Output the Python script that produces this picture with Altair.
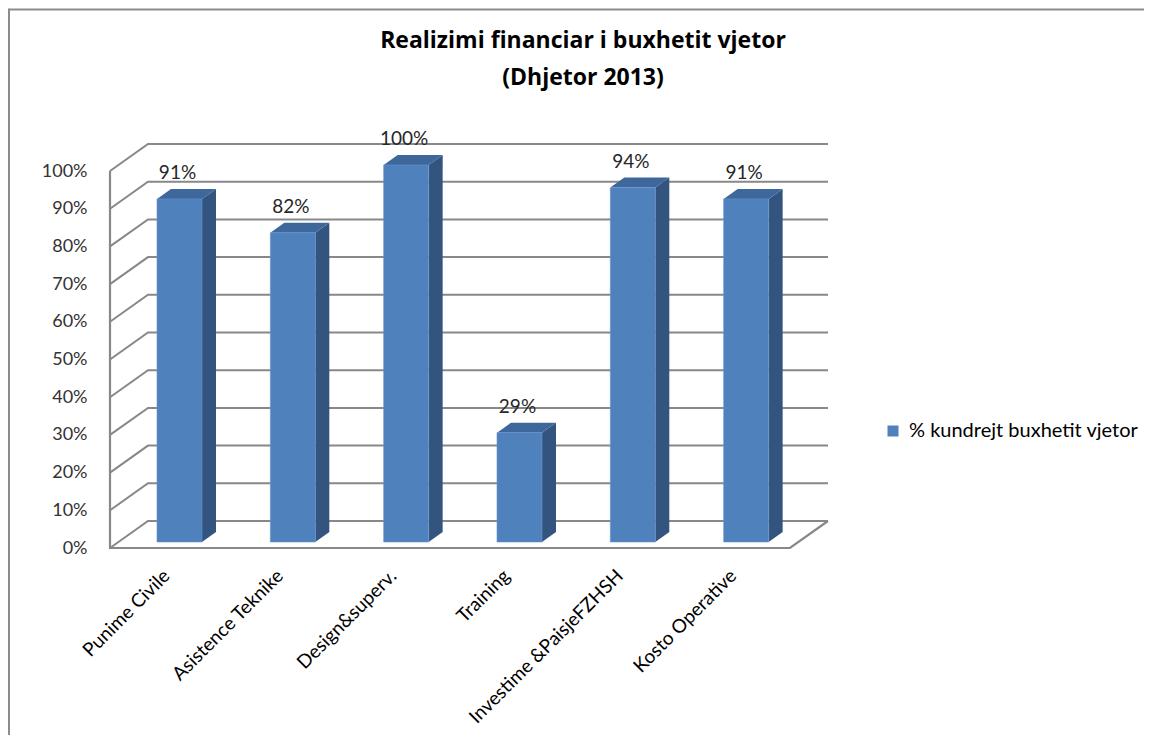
import altair as alt
import pandas as pd

# ---------------- data ----------------
categories = ["Punime Civile", "Asistence Teknike", "Design&superv.", "Training",
              "Investime &PaisjeFZHSH", "Kosto Operative"]
values = [0.91, 0.82, 1.00, 0.29, 0.94, 0.91]
grid_values = [0.0, 0.1, 0.2, 0.3, 0.4, 0.5, 0.6, 0.7, 0.8, 0.9, 1.0]
series_name = "% kundrejt buxhetit vjetor"
title_lines = ["Realizimi financiar i buxhetit  vjetor", "(Dhjetor 2013)"]

# ---------------- layout (pixels) ----------------
W, H = 718, 404
PITCH = 113.33     # px per category on the front edge
PER100 = 377.0     # px per 100% on the front edge


def ux(px):
    return px / PITCH


def uy(px):
    return px / PER100


N = len(categories)
XMAX = W / PITCH
YMAX = H / PER100
DEPTH_X, DEPTH_Y = ux(38), uy(27)
BAR_LEFT, BAR_W = ux(47), ux(45)
BAR_BASE = uy(6)
SIDE_X, SIDE_Y = ux(14), uy(10)

FRONT = "#4F81BD"
TOP = "#3E679B"
SIDE = "#33547F"
GRID = "#888888"
FONT = "Lato"

xs = alt.Scale(domain=[0, XMAX], nice=False, zero=False)
ys = alt.Scale(domain=[0, YMAX], nice=False, zero=False)

# ---------------- derived tables ----------------
front_rows, side_rows, top_rows, lab_rows, cat_rows = [], [], [], [], []
for i, (c, v) in enumerate(zip(categories, values)):
    x1 = i + BAR_LEFT
    x2 = x1 + BAR_W
    t = BAR_BASE + v
    front_rows.append(dict(cat=c, x1=x1, x2=x2, y1=BAR_BASE, y2=t, series=series_name))
    side_rows += [dict(cat=c, x=x2, lo=BAR_BASE, hi=t),
                  dict(cat=c, x=x2 + SIDE_X, lo=BAR_BASE + SIDE_Y, hi=t + SIDE_Y)]
    top_rows += [dict(cat=c, x=x1, lo=t, hi=t),
                 dict(cat=c, x=x1 + SIDE_X, lo=t, hi=t + SIDE_Y),
                 dict(cat=c, x=x2, lo=t, hi=t + SIDE_Y),
                 dict(cat=c, x=x2 + SIDE_X, lo=t + SIDE_Y, hi=t + SIDE_Y)]
    lab_rows.append(dict(x=x1 + BAR_W / 2 - ux(2), y=t, txt=f"{round(v * 100)}%"))
    cat_rows.append(dict(x=i + 0.5, y=0.0, txt=c))

grid_rows = []
for g in grid_values:
    grid_rows += [dict(g=g, x=0.0, y=g, o=0),
                  dict(g=g, x=DEPTH_X, y=g + DEPTH_Y, o=1),
                  dict(g=g, x=XMAX, y=g + DEPTH_Y, o=2)]

edge_rows = [dict(x=0.0, y=1.0, o=0), dict(x=0.0, y=0.0, o=1),
             dict(x=float(N), y=0.0, o=2), dict(x=N + DEPTH_X, y=DEPTH_Y, o=3)]

front_df = pd.DataFrame(front_rows)
side_df = pd.DataFrame(side_rows)
top_df = pd.DataFrame(top_rows)
lab_df = pd.DataFrame(lab_rows)
cat_df = pd.DataFrame(cat_rows)
grid_df = pd.DataFrame(grid_rows)
edge_df = pd.DataFrame(edge_rows)
one = pd.DataFrame({"a": [0]})

# ---------------- layers ----------------
frame_top = alt.Chart(one).mark_rule(color="#8c8c8c", strokeWidth=2).encode(
    x=alt.value(-101), x2=alt.value(W + 316), y=alt.value(-134.5))
frame_left = alt.Chart(one).mark_rule(color="#8c8c8c", strokeWidth=2).encode(
    x=alt.value(-101), y=alt.value(-135.5), y2=alt.value(H + 190))

TITLE_FONT = "Open Sans"
title1 = alt.Chart(one).mark_text(text=title_lines[0], font=TITLE_FONT, fontSize=23, fontWeight="bold",
                                  color="#000000", align="center", baseline="alphabetic").encode(
    x=alt.value(473), y=alt.value(-96))
title2 = alt.Chart(one).mark_text(text=title_lines[1], font=TITLE_FONT, fontSize=23, fontWeight="bold",
                                  color="#000000", align="center", baseline="alphabetic").encode(
    x=alt.value(473), y=alt.value(-59))

grid = alt.Chart(grid_df).mark_line(color=GRID, strokeWidth=2).encode(
    x=alt.X("x:Q", scale=xs, axis=None),
    y=alt.Y("y:Q", scale=ys,
            axis=alt.Axis(values=grid_values, format=".0%", labelFont=FONT, labelFontSize=18,
                          labelColor="#333333", ticks=False, domain=False, grid=False,
                          labelPadding=23, title=None)),
    detail="g:N", order="o:Q")

edges = alt.Chart(edge_df).mark_line(color=GRID, strokeWidth=2.2).encode(
    x=alt.X("x:Q", scale=xs), y=alt.Y("y:Q", scale=ys), order="o:Q")

side = alt.Chart(side_df).mark_area(color=SIDE, orient="vertical", opacity=1).encode(
    x=alt.X("x:Q", scale=xs), y=alt.Y("lo:Q", scale=ys), y2="hi:Q", detail="cat:N")

top = alt.Chart(top_df).mark_area(color=TOP, orient="vertical", opacity=1).encode(
    x=alt.X("x:Q", scale=xs), y=alt.Y("lo:Q", scale=ys), y2="hi:Q", detail="cat:N")

front = alt.Chart(front_df).mark_rect(stroke="#6a95cc", strokeWidth=0.6).encode(
    x=alt.X("x1:Q", scale=xs), x2="x2:Q",
    y=alt.Y("y1:Q", scale=ys), y2="y2:Q",
    color=alt.Color("series:N", scale=alt.Scale(range=[FRONT]),
                    legend=alt.Legend(orient="none", legendX=773, legendY=277, title=None,
                                      symbolType="square", symbolSize=121, symbolStrokeWidth=0,
                                      symbolOpacity=1, labelFont=FONT, labelFontSize=20,
                                      labelColor="#000000", labelOffset=6, padding=0,
                                      labelLimit=400)))

data_labels = alt.Chart(lab_df).mark_text(font=FONT, fontSize=19, color="#262626",
                                         baseline="middle", align="center", yOffset=-26).encode(
    x=alt.X("x:Q", scale=xs), y=alt.Y("y:Q", scale=ys), text="txt:N")

cat_labels = alt.Chart(cat_df).mark_text(font=FONT, fontSize=19, color="#000000", angle=315,
                                        align="right", baseline="middle", yOffset=25).encode(
    x=alt.X("x:Q", scale=xs), y=alt.Y("y:Q", scale=ys), text="txt:N")

chart = alt.layer(frame_top, frame_left, title1, title2, grid, edges, side, top, front,
                  data_labels, cat_labels).properties(
    width=W, height=H,
    autosize=alt.AutoSizeParams(type="none"),
    padding={"left": 102, "top": 136, "right": 316, "bottom": 187},
).configure_view(strokeWidth=0)

chart.save("out.html", embed_options={"renderer": "svg", "actions": False})
